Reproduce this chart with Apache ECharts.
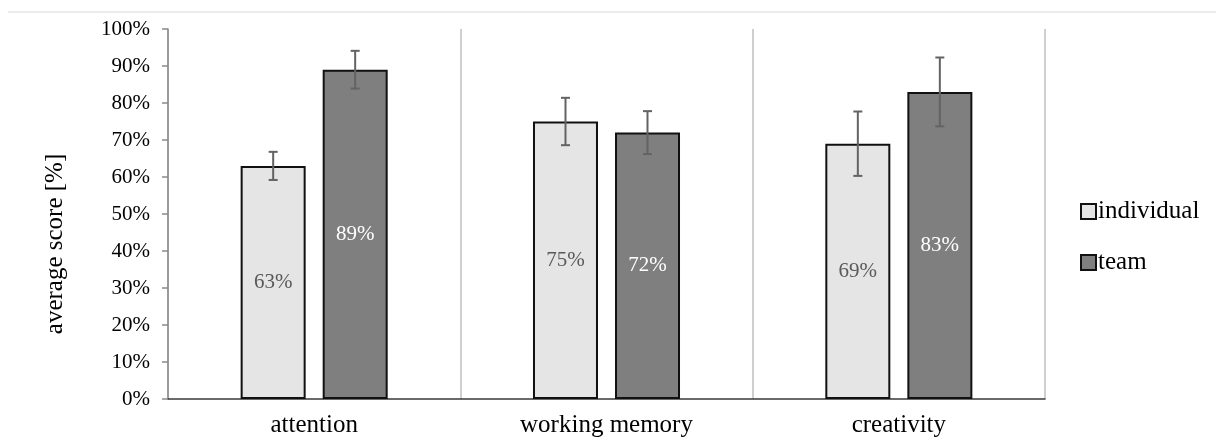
<!DOCTYPE html>
<html>
<head>
<meta charset="utf-8">
<script src="https://cdn.jsdelivr.net/npm/echarts@6/dist/echarts.min.js"></script>
<style>
  html, body { margin: 0; padding: 0; background: #fff; }
  #chart { width: 1216px; height: 443px; }
</style>
</head>
<body>
<div id="chart"></div>
<script>
const categories = ["attention", "working memory", "creativity"];
const seriesNames = ["individual", "team"];
const individualValues = [63, 75, 69];
const teamValues = [89, 72, 83];
const individualErrors = [3.8, 6.4, 8.7];
const teamErrors = [5.1, 5.8, 9.3];
const yTicks = [0, 10, 20, 30, 40, 50, 60, 70, 80, 90, 100];

const FONT = "'Liberation Serif', 'Times New Roman', serif";
const BAR_W = 65;
const BAR_GAP = 17;

const errorRows = (values, errors) =>
  values.map((v, i) => [i, v - errors[i], v + errors[i]]);

const errorSeries = (name, values, errors, side) => ({
  type: "custom",
  name: name + " error",
  z: 10,
  silent: true,
  data: errorRows(values, errors),
  renderItem(params, api) {
    const center = api.coord([api.value(0), 0]);
    const x = center[0] + side * (BAR_W + BAR_GAP) / 2;
    const lo = api.coord([api.value(0), api.value(1)])[1];
    const hi = api.coord([api.value(0), api.value(2)])[1];
    const style = { stroke: "#636363", lineWidth: 2 };
    const cap = 4.5;
    return {
      type: "group",
      children: [
        { type: "line", shape: { x1: x, y1: lo, x2: x, y2: hi }, style },
        { type: "line", shape: { x1: x - cap, y1: lo, x2: x + cap, y2: lo }, style },
        { type: "line", shape: { x1: x - cap, y1: hi, x2: x + cap, y2: hi }, style }
      ]
    };
  }
});

const chart = echarts.init(document.getElementById("chart"));

chart.setOption({
  animation: false,
  textStyle: { fontFamily: FONT },
  graphic: [
    {
      type: "line",
      shape: { x1: 8, y1: 12, x2: 1216, y2: 12 },
      style: { stroke: "#e6e6e6", lineWidth: 1.5 }
    }
  ],
  grid: { left: 168, right: 171, top: 29, bottom: 44 },
  legend: {
    orient: "vertical",
    left: 1075,
    top: 194,
    itemWidth: 15,
    itemHeight: 15,
    itemGap: 26,
    icon: "rect",
    textStyle: { fontFamily: FONT, fontSize: 25, color: "#000", padding: [0, 0, 0, -3] },
    data: seriesNames
  },
  xAxis: {
    type: "category",
    data: categories,
    axisLine: { lineStyle: { color: "#3a3a3a", width: 1.5 } },
    axisTick: { show: false },
    splitLine: { show: true, lineStyle: { color: "#cfcfcf", width: 2 } },
    axisLabel: { fontFamily: FONT, fontSize: 25, color: "#000", margin: 14 }
  },
  yAxis: {
    type: "value",
    min: 0,
    max: 100,
    interval: 10,
    name: "average score [%]",
    nameLocation: "middle",
    nameRotate: 90,
    nameGap: 100,
    nameTextStyle: { fontFamily: FONT, fontSize: 25, color: "#000", padding: [0, 60, 0, 0] },
    axisLine: { show: true, lineStyle: { color: "#8a8a8a", width: 1.5 } },
    axisTick: { show: true, inside: false, length: 6, lineStyle: { color: "#8a8a8a", width: 1.5 } },
    splitLine: { show: false },
    axisLabel: {
      fontFamily: FONT,
      fontSize: 21,
      color: "#000",
      margin: 18,
      formatter: (v) => (yTicks.includes(v) ? v + "%" : "")
    }
  },
  series: [
    {
      type: "bar",
      name: seriesNames[0],
      data: individualValues,
      barWidth: BAR_W,
      barGap: (BAR_GAP / BAR_W * 100).toFixed(1) + "%",
      itemStyle: { color: "#e5e5e5", borderColor: "#111", borderWidth: 2 },
      label: {
        show: true,
        position: "inside",
        formatter: "{c}%",
        fontFamily: FONT,
        fontSize: 21,
        color: "#595959"
      }
    },
    {
      type: "bar",
      name: seriesNames[1],
      data: teamValues,
      barWidth: BAR_W,
      itemStyle: { color: "#7f7f7f", borderColor: "#111", borderWidth: 2 },
      label: {
        show: true,
        position: "inside",
        formatter: "{c}%",
        fontFamily: FONT,
        fontSize: 21,
        color: "#fff"
      }
    },
    errorSeries(seriesNames[0], individualValues, individualErrors, -1),
    errorSeries(seriesNames[1], teamValues, teamErrors, 1)
  ]
});
</script>
</body>
</html>
